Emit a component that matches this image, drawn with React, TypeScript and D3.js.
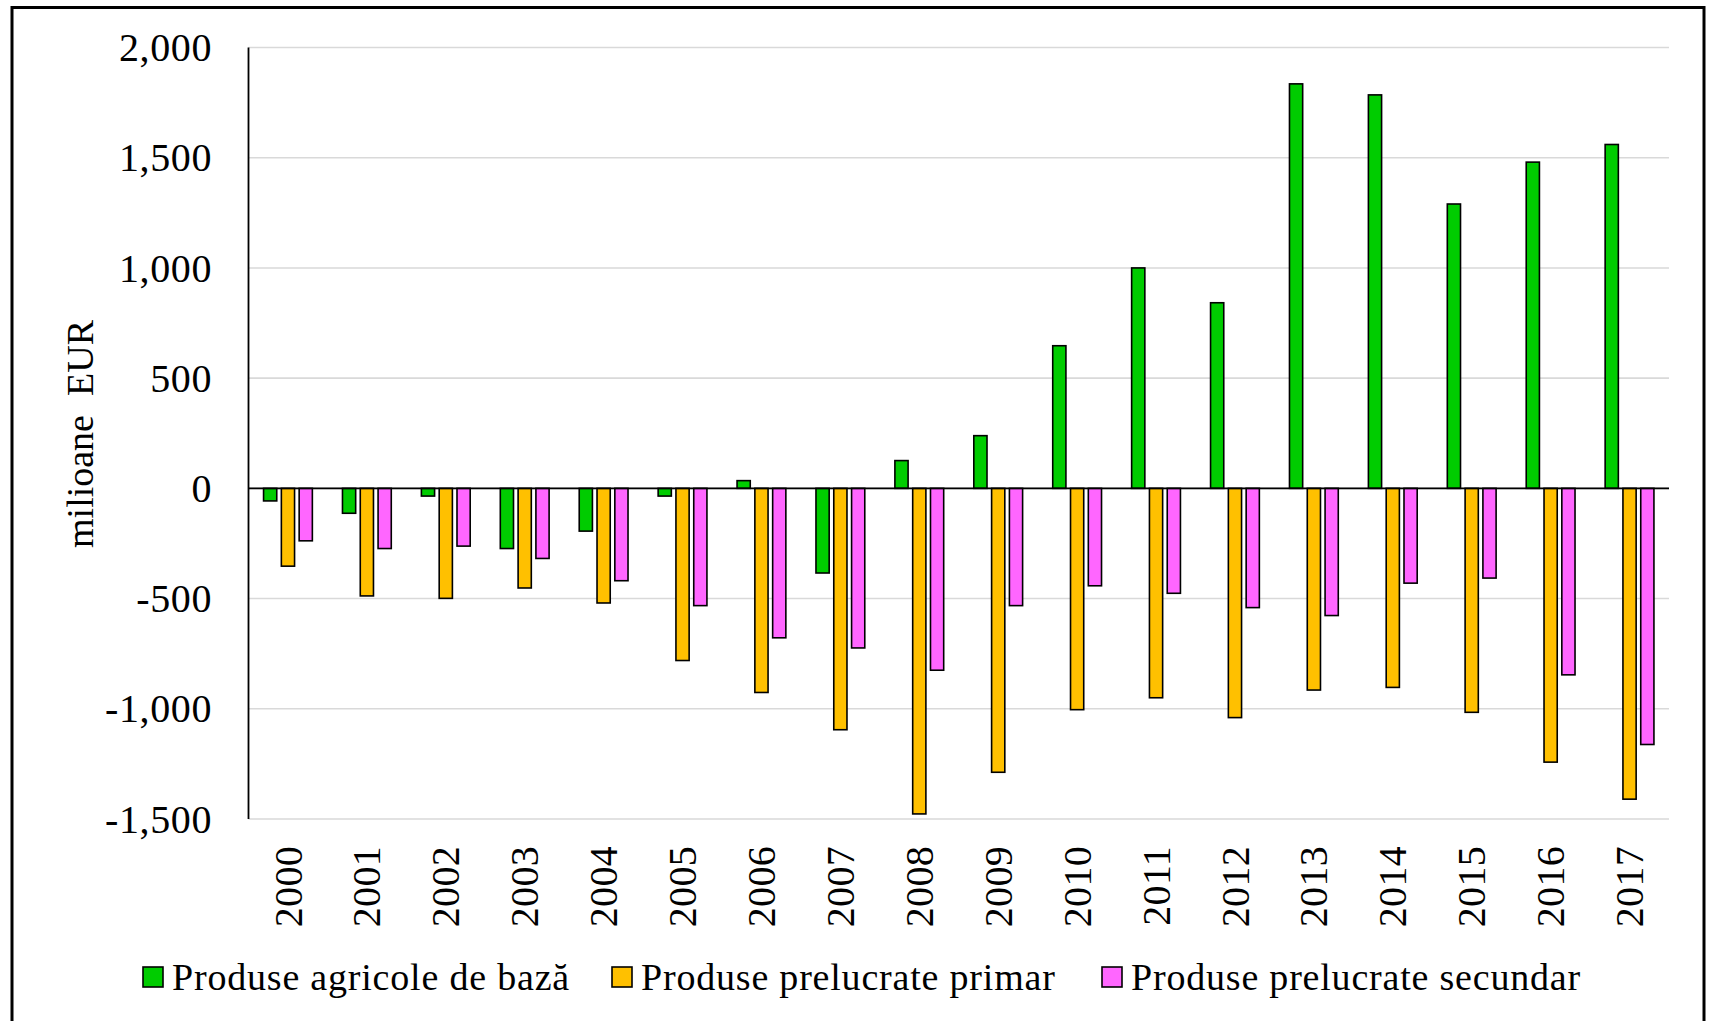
import React from "react";
import * as d3 from "d3";

const years = ["2000","2001","2002","2003","2004","2005","2006","2007","2008","2009","2010","2011","2012","2013","2014","2015","2016","2017"];
const seriesNames = ["Produse agricole de bază", "Produse prelucrate primar", "Produse prelucrate secundar"];
const seriesColors = ["#00CC00", "#FFC000", "#FF66FF"];
const agricole = [-57,-113,-35,-273,-194,-35,35,-384,126,239,647,1000,842,1835,1785,1290,1480,1560];
const primar = [-353,-488,-499,-452,-520,-781,-926,-1095,-1477,-1288,-1004,-950,-1040,-915,-903,-1016,-1242,-1410];
const secundar = [-238,-273,-262,-318,-419,-532,-678,-724,-825,-532,-442,-476,-541,-577,-430,-407,-846,-1162];
const yTicks = [-1500,-1000,-500,0,500,1000,1500,2000];
const yTitle = "milioane  EUR";

const W = 1710, H = 1021;
const FONT = "'Liberation Serif', 'Times New Roman', serif";

export default function App() {
  const series = [agricole, primar, secundar];
  const x = d3.scaleBand<string>().domain(years).range([248.5, 1669]).paddingInner(0).paddingOuter(0);
  const y = d3.scaleLinear().domain([-1500, 2000]).range([819, 47.5]);
  const fmt = d3.formatLocale({ decimal: ".", thousands: ",", grouping: [3], currency: ["", ""], minus: "-" }).format(",");
  const pitch = 17.8, bw = 13.2;
  const x0 = x.range()[0], x1 = x.range()[1];

  return (
    <svg width={W} height={H} style={{ position: "absolute", left: 0, top: 0, background: "#fff" }} fontFamily={FONT}>
      <rect x={0} y={0} width={W} height={H} fill="#fff" />
      <rect x={12} y={7.5} width={1692} height={1030} fill="none" stroke="#000" strokeWidth={3} />
      {yTicks.map(t => (
        <g key={t}>
          <line x1={x0} x2={x1} y1={y(t)} y2={y(t)} stroke="#D9D9D9" strokeWidth={1.6} />
          <text x={212} y={y(t)} dy="0.34em" textAnchor="end" fontSize={40} letterSpacing={0.6} fill="#000">{fmt(t)}</text>
        </g>
      ))}
      {years.map((yr, i) => {
        const cx = (x(yr) as number) + x.bandwidth() / 2;
        return (
          <g key={yr}>
            {series.map((s, j) => {
              const v = s[i];
              const bx = cx + (j - 1) * pitch - bw / 2;
              const top = Math.min(y(v), y(0));
              const h = Math.abs(y(v) - y(0));
              return <rect key={j} x={bx} y={top} width={bw} height={h} fill={seriesColors[j]} stroke="#000" strokeWidth={1.6} />;
            })}
            <text transform={`translate(${cx},846) rotate(-90)`} dy="0.34em" textAnchor="end" fontSize={40} letterSpacing={0.3} fill="#000">{yr}</text>
          </g>
        );
      })}
      <line x1={x0} x2={x1} y1={y(0)} y2={y(0)} stroke="#000" strokeWidth={1.8} />
      <line x1={x0} x2={x0} y1={y(2000)} y2={y(-1500)} stroke="#000" strokeWidth={1.8} />
      <text transform="translate(93,434) rotate(-90)" textAnchor="middle" fontSize={38} fill="#000" style={{ whiteSpace: "pre" }}>{yTitle}</text>
      {seriesNames.map((n, j) => {
        const sx = [143, 612, 1102][j];
        return (
          <g key={n}>
            <rect x={sx} y={967} width={20} height={20} fill={seriesColors[j]} stroke="#000" strokeWidth={1.6} />
            <text x={sx + 29} y={990} fontSize={38} letterSpacing={0.8} fill="#000">{n}</text>
          </g>
        );
      })}
    </svg>
  );
}
